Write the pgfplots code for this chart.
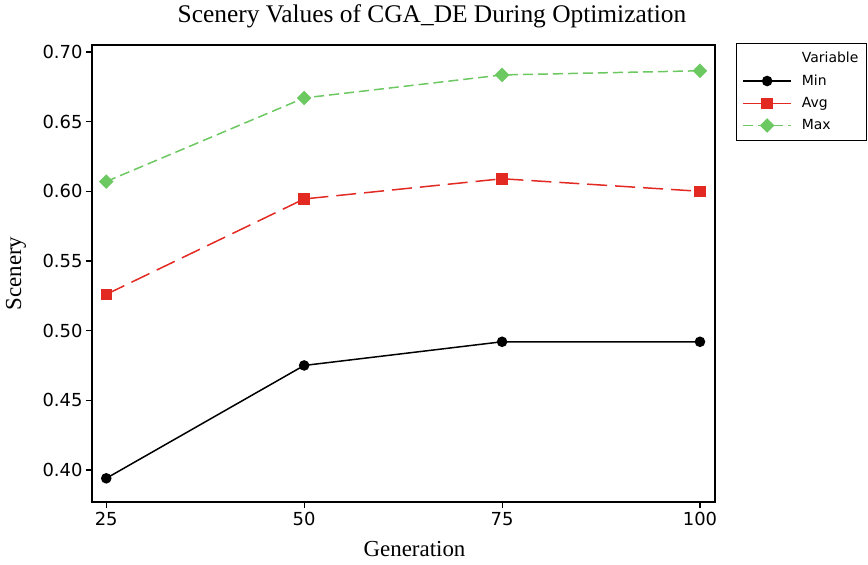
\documentclass[border=0pt]{standalone}
\usepackage{fontspec}
\setmainfont{Liberation Serif}
\newfontfamily\tickfont{DejaVu Sans}
\usepackage{pgfplots}
\pgfplotsset{compat=1.18}
\definecolor{minred}{RGB}{226,42,34}
\definecolor{mingreen}{RGB}{108,200,96}
\begin{document}
\begin{tikzpicture}
\begin{axis}[
  scale only axis,
  width=623bp, height=457bp,
  xmin=23.2, xmax=101.9,
  ymin=0.377, ymax=0.705,
  xtick={25,50,75,100},
  ytick={0.40,0.45,0.50,0.55,0.60,0.65,0.70},
  yticklabel style={/pgf/number format/.cd, fixed, fixed zerofill, precision=2},
  /pgf/number format/assume math mode=true,
  tick label style={font=\fontsize{18}{20}\tickfont},
  xticklabel style={yshift=-1bp},
  tick align=outside, xtick pos=bottom, ytick pos=left,
  major tick length=6bp,
  axis line style={line width=1.1pt},
  every tick/.style={black, line width=1.1pt},
  title={Scenery Values of CGA\_DE During Optimization},
  title style={font=\fontsize{25.5}{27}\selectfont, at={(rel axis cs:0.5,1)}, anchor=base, xshift=28.5bp, yshift=17bp},
  xlabel={Generation},
  ylabel={Scenery},
  label style={font=\fontsize{23}{25}\selectfont},
  xlabel style={at={(rel axis cs:0.5,0)}, anchor=center, xshift=11bp, yshift=-47bp},
  ylabel style={at={(rel axis cs:0,0.5)}, anchor=center, yshift=76bp},
  legend style={at={(rel axis cs:1,1)}, anchor=north west, xshift=21bp, yshift=2bp,
    font=\fontsize{14}{16}\tickfont, draw=black, line width=0.8pt,
    row sep=6.5bp, column sep=8bp, inner xsep=6bp, inner ysep=7bp},
  legend cell align=left,
  legend image code/.code={
    \draw[mark repeat=2, mark phase=2, #1, line width=1.5pt] plot coordinates {(0bp,0bp) (24bp,0bp) (48bp,0bp)};
  },
]
\addlegendimage{empty legend}
\addlegendentry{Variable}
\addplot[black, line width=1.5pt, mark=*, mark size=4.5bp, mark options={solid}]
  coordinates {(25,0.394) (50,0.475) (75,0.492) (100,0.492)};
\addlegendentry{Min}
\addplot[minred, line width=1.5pt, dash pattern=on 20bp off 8bp, mark=square*, mark size=5bp, mark options={solid}]
  coordinates {(25,0.526) (50,0.5945) (75,0.609) (100,0.600)};
\addlegendentry{Avg}
\addplot[mingreen, line width=1.5pt, dash pattern=on 10bp off 5bp, mark=square*, mark size=4.4bp, mark options={solid, rotate=45}]
  coordinates {(25,0.607) (50,0.667) (75,0.6835) (100,0.6865)};
\addlegendentry{Max}
\end{axis}
\pgfresetboundingbox
\path[use as bounding box] (-92bp,-63bp) rectangle (776bp,502bp);
\end{tikzpicture}
\end{document}
